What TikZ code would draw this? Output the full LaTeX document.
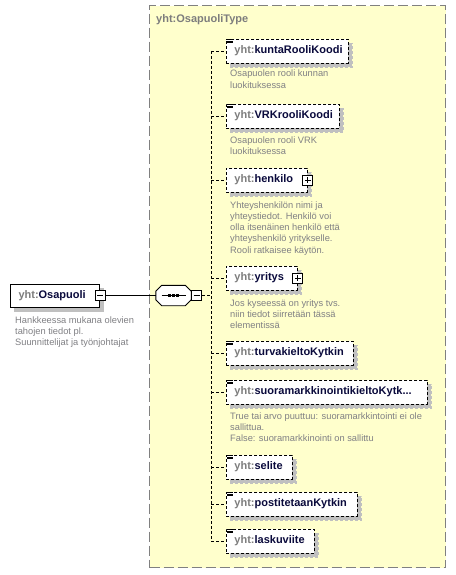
\documentclass[tikz,border=0pt]{standalone}
\usepackage{fontspec}
\setmainfont{Liberation Sans}
\usetikzlibrary{shadows}
\definecolor{boxyellow}{RGB}{255,255,204}
\definecolor{framegray}{RGB}{128,128,128}
\definecolor{desc}{RGB}{128,128,132}
\definecolor{pre}{RGB}{125,125,125}
\definecolor{nm}{RGB}{10,10,60}
\definecolor{shad}{RGB}{192,192,192}
\newcommand\elname[1]{\textcolor{pre}{yht:}\textcolor{nm}{#1}}
\begin{document}
\begin{tikzpicture}[x=1pt,y=-1pt,
  elem/.style={draw=black, dash pattern=on 3pt off 2pt, fill=white, line width=0.9pt,
    drop shadow={shadow xshift=4pt, shadow yshift=-4pt, fill=shad, draw=shad, opacity=1},
    minimum height=24pt, inner xsep=8pt, inner ysep=0pt, anchor=west,
    font=\fontsize{11}{13}\selectfont\bfseries, align=left},
  rootbox/.style={elem, solid, line width=1pt},
  desc/.style={anchor=base west, inner sep=0pt, align=left, font=\fontsize{9.3}{11.3}\selectfont, text=desc},
  pm/.style={draw=black, solid, fill=white, minimum size=10pt, inner sep=0pt, line width=0.9pt},
  minus/.style={path picture={\draw[solid,line width=0.9pt] ([xshift=2pt]path picture bounding box.west) -- ([xshift=-2pt]path picture bounding box.east);}},
  plus/.style={path picture={\draw[solid,line width=0.9pt] ([xshift=2pt]path picture bounding box.west) -- ([xshift=-2pt]path picture bounding box.east);
     \draw[solid,line width=0.9pt] ([yshift=-2pt]path picture bounding box.north) -- ([yshift=2pt]path picture bounding box.south);}},
  conn/.style={draw=black, dash pattern=on 3pt off 2pt, line width=0.9pt},
  seqshape/.style={minimum width=35pt, minimum height=20pt, inner sep=0pt},
  container/.style={draw=framegray, fill=boxyellow, dash pattern=on 10pt off 4pt, line width=1.3pt, inner sep=0pt, anchor=north west},
  icon/.style={draw=black, solid, line width=0.7pt}
]
\useasboundingbox (0,0) rectangle (455,575);
\fill[white] (0,0) rectangle (455,575);

% container type
\node[container, minimum width=296pt, minimum height=562pt] (type) at (149,5) {};
\node[anchor=base west, inner sep=0pt, font=\fontsize{11}{13}\selectfont\bfseries, text=pre] (title) at (156,23) {yht:OsapuoliType};

% root element
\node[rootbox, text width=73pt, minimum height=23pt] (root) at (10,295.5) {\elname{Osapuoli}};
\node[pm, minus] (rootm) at (root.east) {};
\node[desc] (d0) at (15,345.6) {Hankkeessa mukana olevien\\tahojen tiedot pl.\\Suunnittelijat ja työnjohtajat};

% sequence compositor
\node[seqshape] (seq) at (173.5,295.5) {};
\fill[shad, shift={(4,4)}] ([xshift=6pt]seq.north west) -- ([xshift=-6pt]seq.north east) -- ([yshift=-6pt]seq.north east)
   -- ([yshift=6pt]seq.south east) -- ([xshift=-6pt]seq.south east) -- ([xshift=6pt]seq.south west)
   -- ([yshift=6pt]seq.south west) -- ([yshift=-6pt]seq.north west) -- cycle;
\draw[fill=white, line width=0.9pt] ([xshift=6pt]seq.north west) -- ([xshift=-6pt]seq.north east) -- ([yshift=-6pt]seq.north east)
   -- ([yshift=6pt]seq.south east) -- ([xshift=-6pt]seq.south east) -- ([xshift=6pt]seq.south west)
   -- ([yshift=6pt]seq.south west) -- ([yshift=-6pt]seq.north west) -- cycle;
\draw[solid, line width=0.9pt] ([xshift=-12pt]seq.center) -- ([xshift=12pt]seq.center);
\foreach \dx in {-4.3,0,4.3}
  \fill[black] ([shift={(\dx-1.5,-1.5)}]seq.center) rectangle ++(3,3);
\node[pm, minus, anchor=west] (seqm) at (seq.east) {};
\draw[solid, line width=1pt] (rootm.east) -- (seq.west);

% children
\node[elem, text width=106pt] (c1) at (226,51) {\elname{kuntaRooliKoodi}};
\node[elem, text width=97pt] (c2) at (226,116) {\elname{VRKrooliKoodi}};
\node[elem, text width=65pt] (c3) at (226,180) {\elname{henkilo}};
\node[elem, text width=55pt] (c4) at (226,278) {\elname{yritys}};
\node[elem, text width=111pt] (c5) at (226,353) {\elname{turvakieltoKytkin}};
\node[elem, text width=185pt] (c6) at (226,392) {\elname{suoramarkkinointikieltoKytk...}};
\node[elem, text width=50pt] (c7) at (226,467) {\elname{selite}};
\node[elem, text width=115pt] (c8) at (226,504) {\elname{postitetaanKytkin}};
\node[elem, text width=72pt] (c9) at (226,541) {\elname{laskuviite}};

\node[pm, plus] (c3p) at (c3.east) {};
\node[pm, plus] (c4p) at (c4.east) {};

% icons
\foreach \c in {c1,c2,c5,c6,c7,c8,c9}{
  \foreach \dy in {1,2.6,4.2}
    \draw[icon] ([shift={(1,\dy)}]\c.north west) -- ++(5.5,0);
}

% descriptions (anchored at the baseline of the last line)
\node[desc] (d1) at (230,88.3) {Osapuolen rooli kunnan\\luokituksessa};
\node[desc] (d2) at (230,154.3) {Osapuolen rooli VRK\\luokituksessa};
\node[desc] (d3) at (230,253.2) {Yhteyshenkilön nimi ja\\yhteystiedot. Henkilö voi\\olla itsenäinen henkilö että\\yhteyshenkilö yritykselle.\\Rooli ratkaisee käytön.};
\node[desc] (d4) at (230,328.6) {Jos kyseessä on yritys tvs.\\niin tiedot siirretään tässä\\elementissä};
\node[desc] (d6) at (230,441.6) {True tai arvo puuttuu: suoramarkkintointi ei ole\\sallittua.\\False: suoramarkkinointi on sallittu};

% connectors
\coordinate (bus) at (211,295.5);
\draw[conn] (seqm.east) -- (bus);
\draw[conn] (bus |- c1.west) -- (bus |- c9.west);
\foreach \c in {c1,c2,c3,c4,c5,c6,c7,c8,c9}
  \draw[conn] (bus |- \c.west) -- (\c.west);
\end{tikzpicture}
\end{document}
